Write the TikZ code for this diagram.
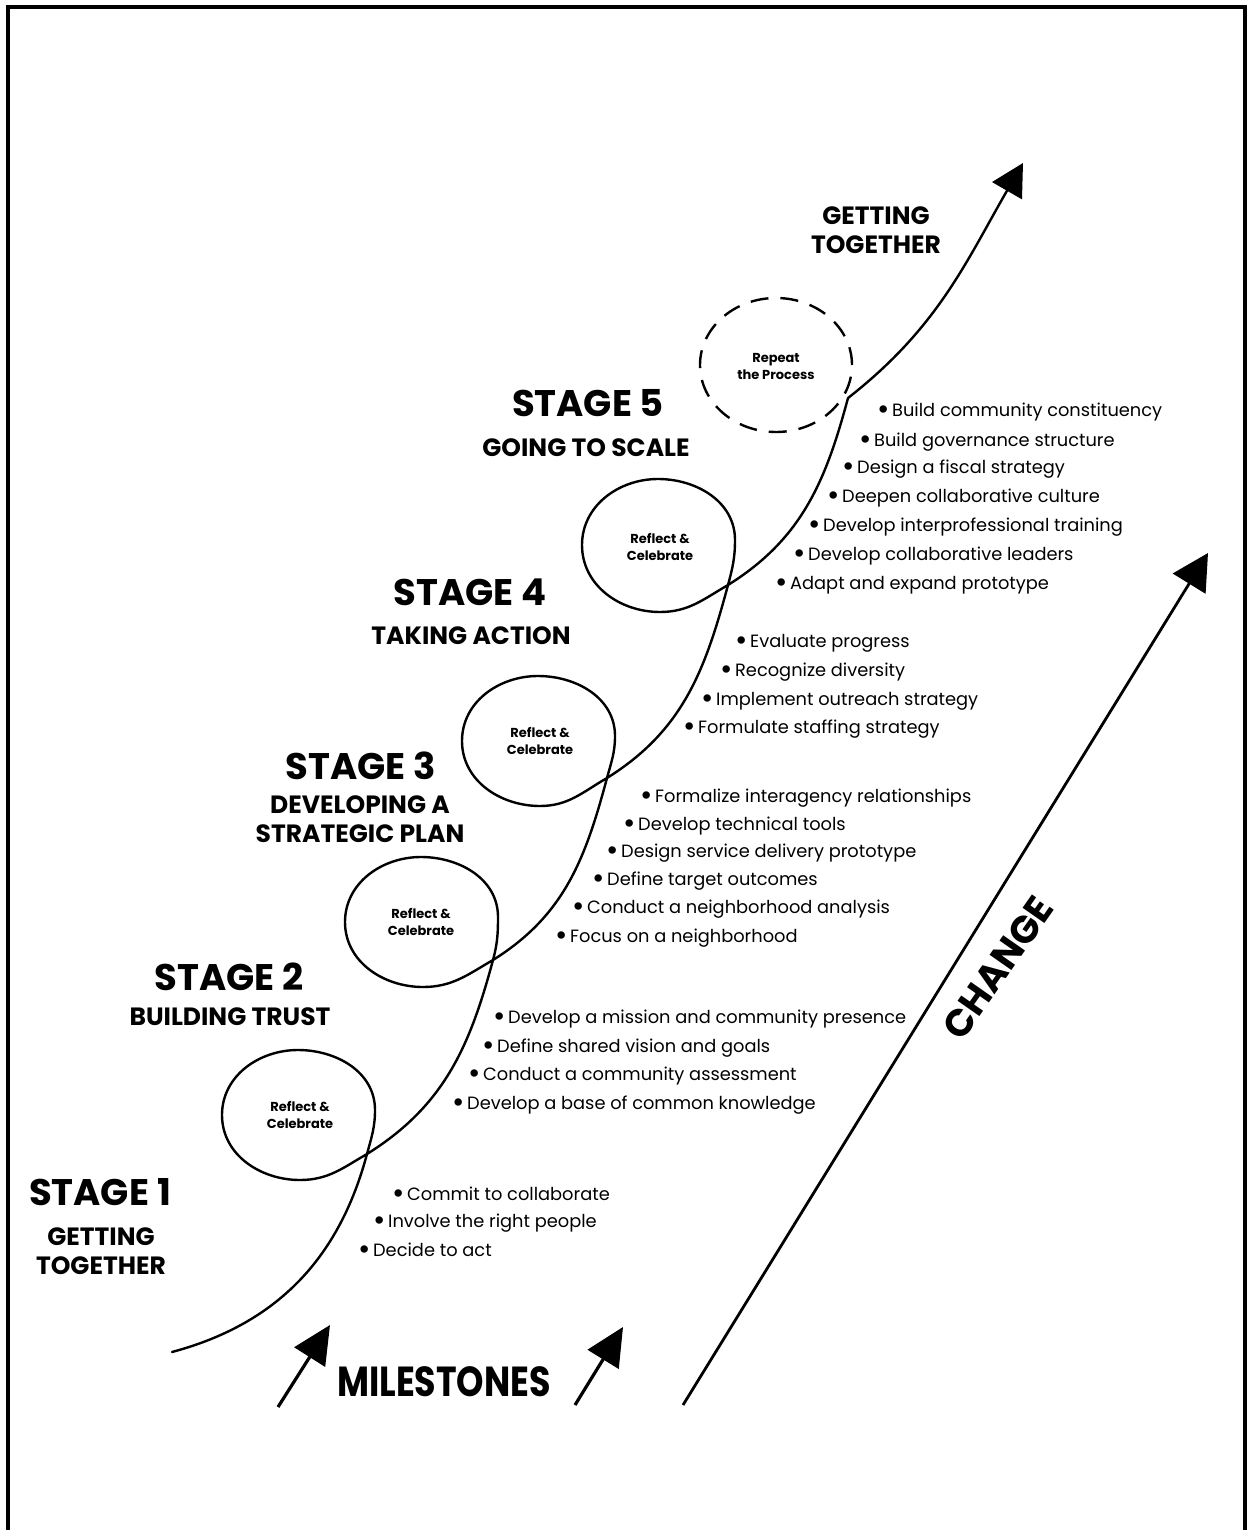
\documentclass[tikz,border=0pt]{standalone}
\usepackage{fontspec}
\setmainfont{Poppins}
\usetikzlibrary{arrows.meta}
\newcommand{\bul}{\raisebox{-1.7pt}{\fontsize{15}{15}\selectfont •}\hspace{1.2pt}}
\begin{document}
\begin{tikzpicture}[x={(0.5pt,0)}, y={(0,-0.5pt)},
  curve/.style={line width=1.2pt, line join=round, line cap=round},
  frame/.style={line width=1.7pt},
  item/.style={anchor=west, inner sep=0pt, font=\fontsize{8.9}{11}\selectfont},
  stagehd/.style={font=\bfseries\fontsize{18.5}{21}\selectfont, inner sep=0pt},
  stagesub/.style={font=\bfseries\fontsize{12.5}{14.5}\selectfont, align=center, inner sep=0pt},
  note/.style={font=\bfseries\fontsize{6.5}{8.5}\selectfont, align=center, inner sep=0pt},
  bigarrow/.style={line width=1.6pt, -{Triangle[length=19pt,width=18pt]}},
  dashloop/.style={line width=1.2pt, dash pattern=on 9pt off 6pt}
]
\useasboundingbox (0,0) rectangle (1247,1530);
% frame
\draw[frame] (8,1530) -- (8,7) -- (1245,7) -- (1245,1530);

% coordinates of the main curve
\coordinate (s0) at (172,1352);
\coordinate (c1) at (367,1154); \coordinate (r1) at (375,1110); \coordinate (t1) at (298,1050); \coordinate (l1) at (222,1115); \coordinate (b1) at (300,1180);
\coordinate (c2) at (493,960);  \coordinate (r2) at (498,917);  \coordinate (t2) at (421,857);  \coordinate (l2) at (345,922);  \coordinate (b2) at (423,987);
\coordinate (c3) at (607,778);  \coordinate (r3) at (615,736);  \coordinate (t3) at (538,676);  \coordinate (l3) at (462,741);  \coordinate (b3) at (540,806);
\coordinate (c4) at (728,585);  \coordinate (r4) at (735,540);  \coordinate (t4) at (658,479);  \coordinate (l4) at (582,545);  \coordinate (b4) at (660,612);
\coordinate (c5) at (848,398);
\coordinate (tip) at (1023,163);

\draw[curve] (s0) to[out=15,in=-105] (c1)
  to[out=75,in=-90] (r1) to[out=90,in=0] (t1) to[out=180,in=90] (l1) to[out=-90,in=180] (b1) to[out=0,in=210] (c1)
  to[out=32,in=-105] (c2)
  to[out=75,in=-90] (r2) to[out=90,in=0] (t2) to[out=180,in=90] (l2) to[out=-90,in=180] (b2) to[out=0,in=210] (c2)
  to[out=32,in=-105] (c3)
  to[out=75,in=-90] (r3) to[out=90,in=0] (t3) to[out=180,in=90] (l3) to[out=-90,in=180] (b3) to[out=0,in=210] (c3)
  to[out=32,in=-105] (c4)
  to[out=75,in=-90] (r4) to[out=90,in=0] (t4) to[out=180,in=90] (l4) to[out=-90,in=180] (b4) to[out=0,in=210] (c4)
  to[out=32,in=-105] (c5);
\draw[curve, line cap=butt, -{Triangle[length=16pt,width=17pt]}] (c5) to[out=38,in=-120] (tip);

% dashed loop
\draw[dashloop] (776,365) ellipse [x radius=38pt, y radius=33.5pt];
\node[note] (rp) at (776,366) {Repeat\\the Process};

% loop notes
\node[note] (rf1) at (300,1115) {Reflect \&\\Celebrate};
\node[note] (rf2) at (421,922) {Reflect \&\\Celebrate};
\node[note] (rf3) at (540,741) {Reflect \&\\Celebrate};
\node[note] (rf4) at (660,547) {Reflect \&\\Celebrate};

% stage headings
\node[stagehd] (st5) at (588,403) {STAGE 5};
\node[stagesub] (sub5) at (586,448) {GOING TO SCALE};
\node[stagehd] (st4) at (470,592) {STAGE 4};
\node[stagesub] (sub4) at (471,636) {TAKING ACTION};
\node[stagehd] (st3) at (361,766) {STAGE 3};
\node[stagesub] (sub3) at (360,819) {DEVELOPING A\\STRATEGIC PLAN};
\node[stagehd] (st2) at (229,977) {STAGE 2};
\node[stagesub] (sub2) at (230,1017) {BUILDING TRUST};
\node[stagehd] (st1) at (100,1192) {STAGE 1};
\node[stagesub] (sub1) at (101,1251) {GETTING\\TOGETHER};
\node[stagesub] (sub6) at (876,230) {GETTING\\TOGETHER};

% stage 5 items
\node[item] (i51) at (877,412) {\bul Build community constituency};
\node[item] (i52) at (859,442) {\bul Build governance structure};
\node[item] (i53) at (842,469) {\bul Design a fiscal strategy};
\node[item] (i54) at (827,498) {\bul Deepen collaborative culture};
\node[item] (i55) at (808,527) {\bul Develop interprofessional training};
\node[item] (i56) at (793,556) {\bul Develop collaborative leaders};
\node[item] (i57) at (775,585) {\bul Adapt and expand prototype};
% stage 4 items
\node[item] (i41) at (735,643) {\bul Evaluate progress};
\node[item] (i42) at (720,672) {\bul Recognize diversity};
\node[item] (i43) at (701,701) {\bul Implement outreach strategy};
\node[item] (i44) at (683,729) {\bul Formulate staffing strategy};
% stage 3 items
\node[item] (i31) at (640,798) {\bul Formalize interagency relationships};
\node[item] (i32) at (623,826) {\bul Develop technical tools};
\node[item] (i33) at (606,853) {\bul Design service delivery prototype};
\node[item] (i34) at (592,881) {\bul Define target outcomes};
\node[item] (i35) at (572,909) {\bul Conduct a neighborhood analysis};
\node[item] (i36) at (555,938) {\bul Focus on a neighborhood};
% stage 2 items
\node[item] (i21) at (493,1019) {\bul Develop a mission and community presence};
\node[item] (i22) at (482,1048) {\bul Define shared vision and goals};
\node[item] (i23) at (468,1076) {\bul Conduct a community assessment};
\node[item] (i24) at (452,1105) {\bul Develop a base of common knowledge};
% stage 1 items
\node[item] (i11) at (392,1195) {\bul Commit to collaborate};
\node[item] (i12) at (373,1223) {\bul Involve the right people};
\node[item] (i13) at (358,1251) {\bul Decide to act};

% milestones
\coordinate (ma1s) at (278,1407); \coordinate (ma1t) at (330,1325);
\coordinate (ma2s) at (575,1405); \coordinate (ma2t) at (623,1327);
\draw[bigarrow] (ma1s) -- (ma1t);
\draw[bigarrow] (ma2s) -- (ma2t);
\node[font=\bfseries\fontsize{21}{24}\selectfont, inner sep=0pt] (ms) at (444,1382) {\scalebox{0.83}[1]{MILESTONES}};

% change
\coordinate (chs) at (683,1405); \coordinate (cht) at (1208,553);
\draw[line width=1.4pt, -{Triangle[length=18pt,width=19pt]}] (chs) -- (cht);
\node[font=\bfseries\fontsize{19}{22}\selectfont, inner sep=0pt, rotate=55] (chg) at (998,968) {CHANGE};
\end{tikzpicture}
\end{document}
